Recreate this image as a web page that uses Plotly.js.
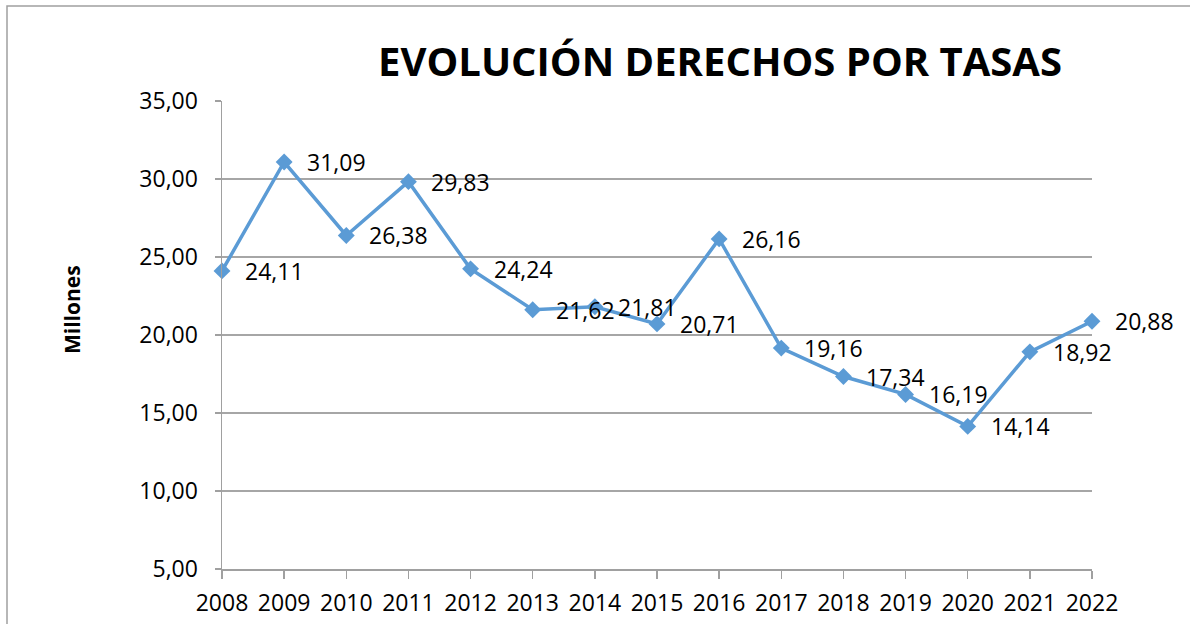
<!DOCTYPE html>
<html>
<head>
<meta charset="utf-8">
<script src="https://cdn.plot.ly/plotly-3.0.1.min.js"></script>
<style>html,body{margin:0;padding:0;background:#fff;}#chart{width:1190px;height:624px;}</style>
</head>
<body>
<div id="chart"></div>
<script>
const years = ['2008','2009','2010','2011','2012','2013','2014','2015','2016','2017','2018','2019','2020','2021','2022'];
const values = [24.11, 31.09, 26.38, 29.83, 24.24, 21.62, 21.81, 20.71, 26.16, 19.16, 17.34, 16.19, 14.14, 18.92, 20.88];
const yTicks = [5, 10, 15, 20, 25, 30, 35];
const chartTitle = 'EVOLUCIÓN DERECHOS POR TASAS';
const yTitle = 'Millones';

const FONT = 'Open Sans, Noto Sans, Liberation Sans, sans-serif';
const fmt = v => v.toFixed(2).replace('.', ',');

const trace = {
  x: years,
  y: values,
  type: 'scatter',
  mode: 'lines+markers',
  line: {color: '#5B9BD5', width: 3.5},
  marker: {symbol: 'diamond', size: 13, color: '#5B9BD5'},
  cliponaxis: false,
  hoverinfo: 'skip'
};

const annotations = years.map((yr, i) => ({
  x: i, y: values[i], xref: 'x', yref: 'y',
  text: fmt(values[i]), showarrow: false,
  xanchor: 'left', yanchor: 'middle', xshift: 21,
  font: {family: FONT, size: 23, color: '#000'}
}));

annotations.push({
  x: (72 - 222) / 870, y: (569 - 310) / 468, xref: 'paper', yref: 'paper',
  text: '<b>' + yTitle + '</b>', textangle: -90, showarrow: false,
  xanchor: 'center', yanchor: 'middle',
  font: {family: FONT, size: 21, color: '#000'}
});

const layout = {
  width: 1190, height: 624,
  margin: {l: 222, r: 98, t: 101, b: 55},
  paper_bgcolor: '#fff', plot_bgcolor: '#fff',
  separators: ',.',
  showlegend: false,
  title: {
    text: '<b>' + chartTitle + '</b>',
    font: {family: FONT, size: 40, color: '#000'},
    x: 720/1190, xanchor: 'center', xref: 'container',
    y: 1 - 62/624, yanchor: 'middle', yref: 'container'
  },
  xaxis: {
    type: 'category',
    range: [0, 14],
    showgrid: false,
    showline: true, linecolor: '#A0A0A0', linewidth: 1.5,
    ticks: 'outside', ticklen: 8, tickcolor: '#A0A0A0', tickwidth: 1.5,
    ticklabelstandoff: 5,
    tickfont: {family: FONT, size: 23, color: '#000'},
    fixedrange: true, zeroline: false
  },
  yaxis: {
    range: [5, 35],
    tickvals: yTicks,
    tickformat: '.2f',
    showgrid: true, gridcolor: '#A6A6A6', gridwidth: 1.5,
    showline: true, linecolor: '#A0A0A0', linewidth: 1.5,
    ticks: 'outside', ticklen: 6, tickcolor: '#A0A0A0', tickwidth: 1.5,
    ticklabelstandoff: 12,
    tickfont: {family: FONT, size: 23, color: '#000'},
    zeroline: false, fixedrange: true
  },
  annotations: annotations,
  shapes: [{
    type: 'rect', xref: 'paper', yref: 'paper',
    x0: (7 - 222) / 870, x1: 1.3,
    y0: -0.3, y1: 1 + (101 - 6) / 468,
    line: {color: '#A0A0A0', width: 1.5}, fillcolor: 'rgba(0,0,0,0)', layer: 'below'
  }]
};

Plotly.newPlot('chart', [trace], layout, {displayModeBar: false, staticPlot: true});
</script>
</body>
</html>
